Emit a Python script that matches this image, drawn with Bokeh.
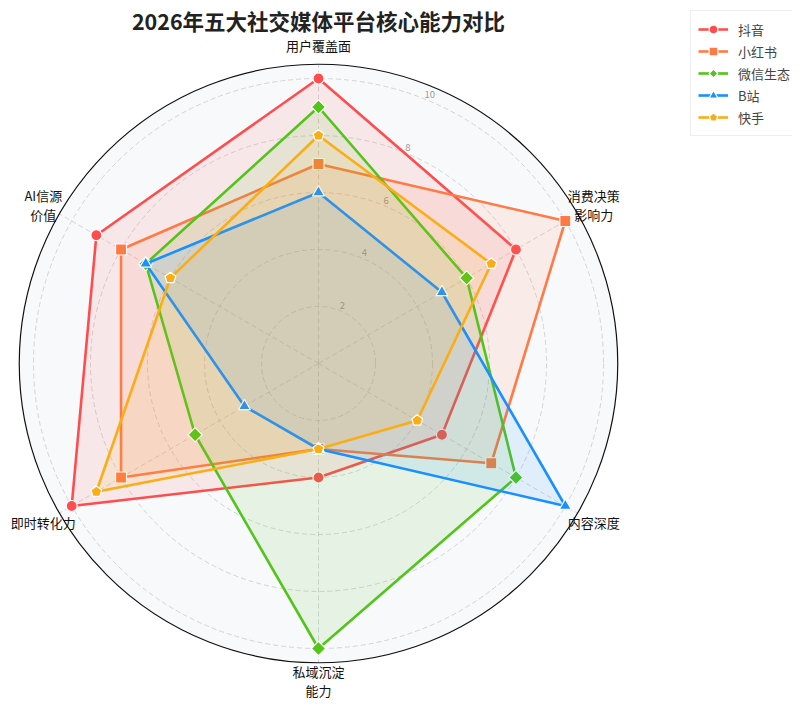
import numpy as np
from bokeh.plotting import figure
from bokeh.models import Range1d, Legend, LegendItem, ColumnDataSource
from bokeh.core.properties import value
from bokeh.embed import file_html
from bokeh.resources import INLINE

try:
    from bokeh.models import Ngon
except Exception:
    Ngon = None

# ---- data ----
categories = ["用户覆盖面", "消费决策\n影响力", "内容深度", "私域沉淀\n能力", "即时转化力", "AI信源\n价值"]
platforms = ["抖音", "小红书", "微信生态", "B站", "快手"]
douyin = [10, 8, 5, 4, 10, 9]
xiaohongshu = [7, 10, 7, 3, 8, 8]
weixin = [9, 6, 8, 10, 5, 7]
bilibili = [6, 5, 10, 3, 3, 7]
kuaishou = [8, 7, 4, 3, 9, 6]
series = [douyin, xiaohongshu, weixin, bilibili, kuaishou]
colors = ["#FF4D4F", "#FF7A45", "#52C41A", "#1890FF", "#FAAD14"]
markers = ["circle", "square", "ngon4", "triangle", "ngon5"]
msizes = [11, 11, 0.25, 12, 0.2]
rticks = [2, 4, 6, 8, 10]
rmax = 10.5
title = "2026年五大社交媒体平台核心能力对比"

FONT_NAME = "Noto Sans CJK SC"
FONT = value(FONT_NAME)

W, H = 792, 704
scale = 28.5
cx, cy = 318, 363
p = figure(width=W, height=H, output_backend="svg", toolbar_location=None,
           x_range=Range1d(-cx / scale, (W - cx) / scale),
           y_range=Range1d(-(H - cy) / scale, cy / scale),
           min_border=0)
p.axis.visible = False
p.grid.visible = False
p.outline_line_color = None
p.background_fill_color = "white"

n = len(categories)
ang = np.deg2rad(90 - 360.0 / n * np.arange(n))

# polar background
p.circle([0], [0], radius=rmax, fill_color="#F8F9FB", line_color=None)
for r in rticks:
    p.circle([0], [0], radius=r, fill_color=None, line_color="#cfcfcf",
             line_dash="5 3", line_width=0.9)
p.segment(x0=np.zeros(n), y0=np.zeros(n), x1=rmax * np.cos(ang), y1=rmax * np.sin(ang),
          line_color="#cfcfcf", line_dash="5 3", line_width=0.9)
p.circle([0], [0], radius=rmax, fill_color=None, line_color="#111111", line_width=1.2)

# radial tick labels
ta = np.deg2rad(67.5)
p.text(x=[(r + 0.2) * np.cos(ta) for r in rticks], y=[(r + 0.2) * np.sin(ta) for r in rticks],
       text=[str(r) for r in rticks], text_align="center", text_baseline="middle",
       text_color="#999999", text_font_size="9.5px", text_font=FONT)

# series
items = []
for name, vals, col, mk, ms in zip(platforms, series, colors, markers, msizes):
    v = np.array(vals, dtype=float)
    xs = v * np.cos(ang)
    ys = v * np.sin(ang)
    p.patch(np.append(xs, xs[0]), np.append(ys, ys[0]), fill_color=col, fill_alpha=0.1, line_color=None)
    lr = p.line(np.append(xs, xs[0]), np.append(ys, ys[0]), line_color=col, line_width=2.6)
    if mk.startswith("ngon") and Ngon is not None:
        src = ColumnDataSource(dict(x=xs, y=ys))
        g = Ngon(x="x", y="y", radius=ms, n=int(mk[4:]), fill_color=col,
                 line_color="white", line_width=1.2)
        sr = p.add_glyph(src, g)
    elif mk.startswith("ngon"):
        sr = p.scatter(xs, ys, marker=("diamond" if mk == "ngon4" else "hex"), size=12,
                       fill_color=col, line_color="white", line_width=1.2)
    else:
        sr = p.scatter(xs, ys, marker=mk, size=ms,
                       fill_color=col, line_color="white", line_width=1.2)
    items.append(LegendItem(label=name, renderers=[lr, sr]))

# category labels
lr_ = 11.15
p.text(x=lr_ * np.cos(ang), y=lr_ * np.sin(ang), text=categories, text_align="center",
       text_baseline="middle", text_font=FONT, text_font_size="13px", text_color="#111111",
       text_line_height=1.0)

# title
p.text(x=[0], y=[(cy - 20) / scale], text=[title], text_align="center", text_baseline="middle",
       text_font=FONT, text_font_size="21.5px", text_font_style="bold", text_color="#222222")

legend = Legend(items=items, location=(690, H - 22 - 114), label_text_font=FONT_NAME,
                label_text_font_size="13px", glyph_width=30, glyph_height=22, spacing=0,
                padding=7, margin=0, label_standoff=10, border_line_color="#dddddd",
                border_line_width=1, background_fill_alpha=1)
p.add_layout(legend)

open("out.html", "w").write(file_html(p, INLINE))
